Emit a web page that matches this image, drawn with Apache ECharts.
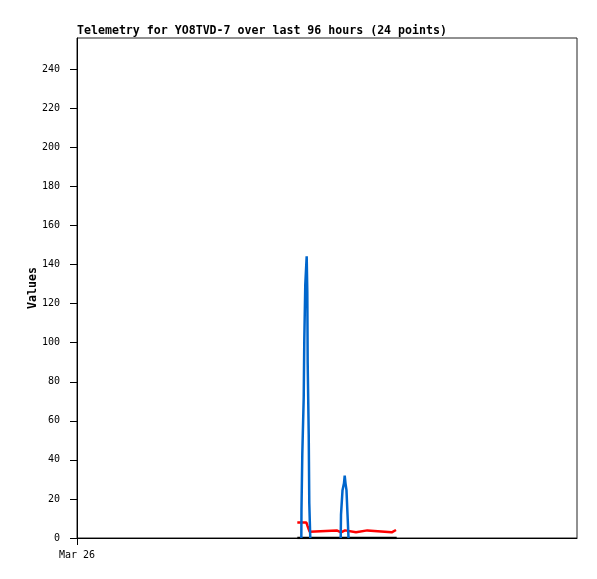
<!DOCTYPE html>
<html>
<head>
<meta charset="utf-8">
<script src="https://cdn.jsdelivr.net/npm/echarts@6/dist/echarts.min.js"></script>
<style>html,body{margin:0;padding:0;background:#fff;}#c{width:597px;height:579px;}</style>
</head>
<body>
<div id="c"></div>
<script>
// hours since Mar 26 00:00, over a 96 hour window
const xLabelText = ['Mar 26'];
const xLabelHours = [0];
const yTicks = [0, 20, 40, 60, 80, 100, 120, 140, 160, 180, 200, 220, 240];

// blue channel (two peaks, gap between)
const blueHours  = [43.07, 43.10, 43.26, 43.53, 43.64, 43.83, 44.10, 44.22, 44.29, 44.49, 44.60, 44.79, 47.7, 50.63, 50.69, 50.98, 51.26, 51.40, 51.55, 51.74, 51.94, 52.13];
const blueValues = [0, 14.3, 43.2, 72, 101, 129.8, 144.2, 125.5, 89.8, 53.3, 17.7, 0, '-', 0, 12, 24.5, 28, 32, 28, 24.5, 12, 0];

// red channel
const redHours  = [42.30, 44.03, 44.22, 44.49, 44.68, 44.93, 49.86, 50.17, 50.69, 51.07, 51.46, 51.78, 53.57, 53.86, 55.74, 56.12, 60.42, 60.77, 61.25];
const redValues = [8.0, 8.0, 6.5, 4.5, 3.2, 3.9, 3.9, 2.9, 2.9, 3.9, 3.9, 2.9, 2.9, 3.9, 3.9, 2.9, 2.9, 3.3, 4.1];

// black channel
const blackHours  = [42.30, 61.38];
const blackValues = [0, 0];

const zip = (a, b) => a.map((v, i) => [v, b[i]]);
const FONT = 'DejaVu Sans Mono';

const chart = echarts.init(document.getElementById('c'));
chart.setOption({
  animation: false,
  backgroundColor: '#fff',
  title: {
    text: 'Telemetry for YO8TVD-7 over last 96 hours (24 points)',
    left: 77, top: 25, padding: 0,
    textStyle: { fontFamily: FONT, fontSize: 11.6, fontWeight: 'bold', color: '#000' }
  },
  grid: { left: 77, right: 20, top: 38, bottom: 41, show: true, borderColor: '#222', borderWidth: 1, backgroundColor: '#fff' },
  xAxis: {
    type: 'value', min: 0, max: 96,
    axisLine: { show: true, lineStyle: { color: '#000', width: 1 } },
    axisTick: { show: true, length: 7, customValues: xLabelHours, lineStyle: { color: '#000' } },
    axisLabel: {
      customValues: xLabelHours,
      formatter: v => { const i = xLabelHours.indexOf(v); return i >= 0 ? xLabelText[i] : ''; },
      fontFamily: FONT, fontSize: 10, color: '#000', margin: 12
    },
    splitLine: { show: false }
  },
  yAxis: {
    type: 'value', min: 0, max: 256,
    name: 'Values', nameLocation: 'middle', nameGap: 38, nameMoveOverlap: false,
    nameTextStyle: { fontFamily: FONT, fontSize: 11.6, fontWeight: 'bold', color: '#000' },
    axisLine: { show: true, lineStyle: { color: '#000', width: 1 } },
    axisTick: { show: true, length: 7, customValues: yTicks, lineStyle: { color: '#000' } },
    axisLabel: { customValues: yTicks, fontFamily: FONT, fontSize: 10, color: '#000', margin: 17 },
    splitLine: { show: false }
  },
  series: [
    { type: 'line', data: zip(redHours, redValues), symbol: 'none', lineStyle: { color: '#ff0000', width: 2.5 }, itemStyle: { color: '#ff0000' } },
    { type: 'line', data: zip(blackHours, blackValues), symbol: 'none', lineStyle: { color: '#000', width: 2.5 }, itemStyle: { color: '#000' } },
    { type: 'line', data: zip(blueHours, blueValues), symbol: 'none', connectNulls: false, lineStyle: { color: '#0066cc', width: 2.5 }, itemStyle: { color: '#0066cc' } }
  ]
});
</script>
</body>
</html>
